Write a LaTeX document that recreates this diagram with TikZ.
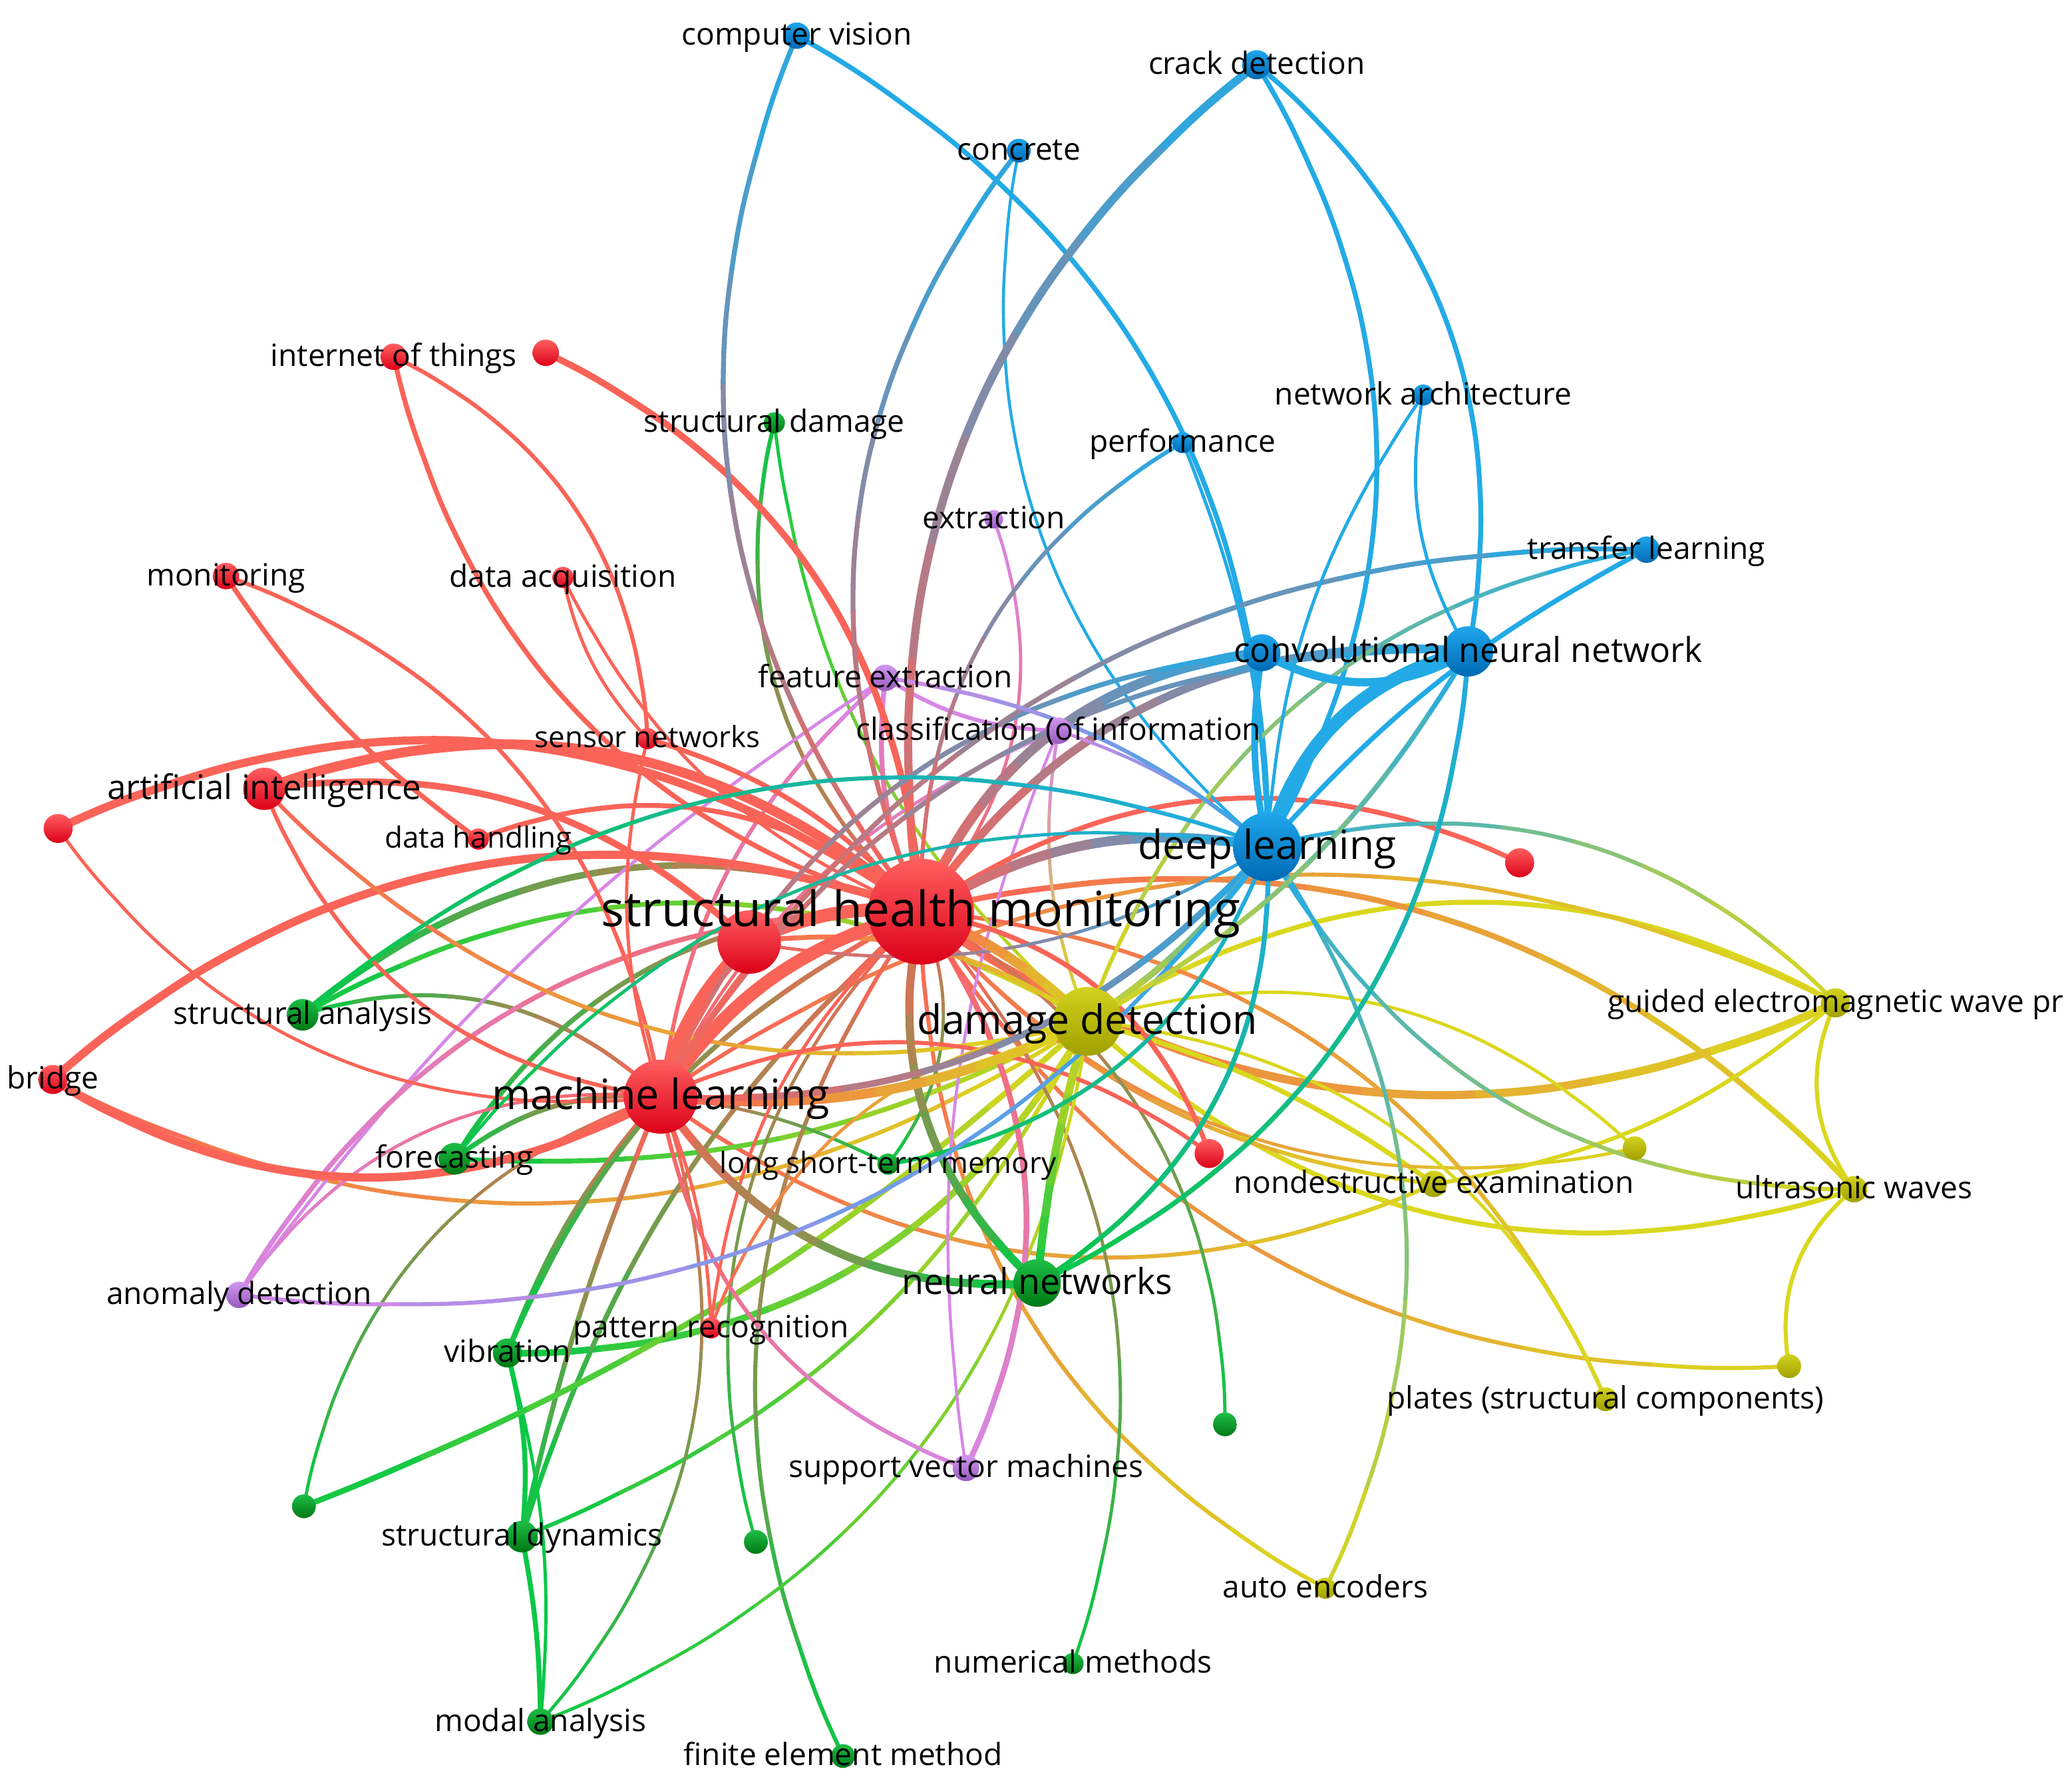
\documentclass[tikz,border=0pt]{standalone}
\usepackage{fontspec}
\setmainfont{Open Sans}
\definecolor{ER}{RGB}{250,100,88}
\definecolor{EB}{RGB}{35,170,230}
\definecolor{EG}{RGB}{10,200,70}
\definecolor{EY}{RGB}{218,215,30}
\definecolor{EP}{RGB}{215,135,230}
\definecolor{redT}{RGB}{255,95,95}
\definecolor{redB}{RGB}{220,0,25}
\definecolor{bluT}{RGB}{30,165,235}
\definecolor{bluB}{RGB}{0,105,180}
\definecolor{grnT}{RGB}{30,190,70}
\definecolor{grnB}{RGB}{0,120,20}
\definecolor{yelT}{RGB}{210,210,30}
\definecolor{yelB}{RGB}{160,160,0}
\definecolor{purT}{RGB}{210,150,240}
\definecolor{purB}{RGB}{150,90,190}
\tikzset{edgeline/.style={line cap=round}}
% cluster colour of each item
\newcommand\setcl[2]{\expandafter\def\csname cc#1\endcsname{#2}}
% gradient edge: from, to, width, bend
\newcommand\edg[4]{%
  \edef\gca{\csname cc#1\endcsname}\edef\gcb{\csname cc#2\endcsname}%
  \path (#1) to[bend left=#4] coordinate[pos=0.125] (q1) coordinate[pos=0.25] (q2)
    coordinate[pos=0.375] (q3) coordinate[pos=0.5] (q4) coordinate[pos=0.625] (q5)
    coordinate[pos=0.75] (q6) coordinate[pos=0.875] (q7) (#2);
  \coordinate (q0) at (#1); \coordinate (q8) at (#2);
  \foreach \i/\j/\m in {0/1/94,1/2/81,2/3/69,3/4/56,4/5/44,5/6/31,6/7/19,7/8/6}{
    \draw[edgeline,line width=#3*0.7pt,draw=\gca!\m!\gcb] (q\i) to[bend left=#4/8] (q\j);
  }%
}
\newcommand\nod[3]{\path[top color=#3T,bottom color=#3B] (#1) circle[radius=#2];}
\newcommand\lbl[3]{\node[anchor=base,inner sep=0pt,text=black,font=\fontsize{#2pt}{#2pt}\selectfont,yshift=-0.31*#2pt] at (#1) {#3};}
\begin{document}
\begin{tikzpicture}[x=0.01986cm,y=0.01986cm]
\useasboundingbox (0,0) rectangle (1568,-1352);
% red
\coordinate (shm) at (697,-690);   \setcl{shm}{ER}
\coordinate (r2) at (567,-713);    \setcl{r2}{ER}
\coordinate (ml) at (500,-830);    \setcl{ml}{ER}
\coordinate (ai) at (200,-597);    \setcl{ai}{ER}
\coordinate (iot) at (298,-270);   \setcl{iot}{ER}
\coordinate (ru1) at (413,-267);   \setcl{ru1}{ER}
\coordinate (mon) at (171,-436);   \setcl{mon}{ER}
\coordinate (dacq) at (426,-437);  \setcl{dacq}{ER}
\coordinate (sn) at (490,-559);    \setcl{sn}{ER}
\coordinate (dh) at (362,-635);    \setcl{dh}{ER}
\coordinate (ru2) at (44,-627);    \setcl{ru2}{ER}
\coordinate (bri) at (40,-817);    \setcl{bri}{ER}
\coordinate (ru3) at (1150,-653);  \setcl{ru3}{ER}
\coordinate (ru4) at (915,-873);   \setcl{ru4}{ER}
\coordinate (pr) at (538,-1005);   \setcl{pr}{ER}
% blue
\coordinate (cv) at (603,-27);     \setcl{cv}{EB}
\coordinate (crack) at (951,-49);  \setcl{crack}{EB}
\coordinate (conc) at (771,-114);  \setcl{conc}{EB}
\coordinate (na) at (1077,-299);   \setcl{na}{EB}
\coordinate (perf) at (895,-335);  \setcl{perf}{EB}
\coordinate (tl) at (1246,-416);   \setcl{tl}{EB}
\coordinate (cnn) at (1111,-493);  \setcl{cnn}{EB}
\coordinate (cnn2) at (955,-494);  \setcl{cnn2}{EB}
\coordinate (dl) at (959,-641);    \setcl{dl}{EB}
% purple
\coordinate (ext) at (752,-393);   \setcl{ext}{EP}
\coordinate (fe) at (670,-513);    \setcl{fe}{EP}
\coordinate (cls) at (801,-553);   \setcl{cls}{EP}
\coordinate (ad) at (181,-980);    \setcl{ad}{EP}
\coordinate (svm) at (731,-1111);  \setcl{svm}{EP}
% green
\coordinate (sd) at (586,-320);    \setcl{sd}{EG}
\coordinate (sa) at (229,-768);    \setcl{sa}{EG}
\coordinate (fc) at (344,-877);    \setcl{fc}{EG}
\coordinate (nn) at (785,-971);    \setcl{nn}{EG}
\coordinate (vib) at (384,-1024);  \setcl{vib}{EG}
\coordinate (sdyn) at (395,-1163); \setcl{sdyn}{EG}
\coordinate (gu1) at (230,-1140);  \setcl{gu1}{EG}
\coordinate (gu2) at (572,-1167);  \setcl{gu2}{EG}
\coordinate (gu3) at (927,-1078);  \setcl{gu3}{EG}
\coordinate (nm) at (812,-1259);   \setcl{nm}{EG}
\coordinate (ma) at (409,-1303);   \setcl{ma}{EG}
\coordinate (fem) at (638,-1329);  \setcl{fem}{EG}
\coordinate (lstm) at (672,-881);  \setcl{lstm}{EG}
% yellow
\coordinate (dd) at (823,-773);    \setcl{dd}{EY}
\coordinate (gem) at (1389,-759);  \setcl{gem}{EY}
\coordinate (uw) at (1403,-900);   \setcl{uw}{EY}
\coordinate (nde) at (1085,-896);  \setcl{nde}{EY}
\coordinate (yu1) at (1237,-869);  \setcl{yu1}{EY}
\coordinate (yu2) at (1354,-1034); \setcl{yu2}{EY}
\coordinate (pl) at (1215,-1059);  \setcl{pl}{EY}
\coordinate (ae) at (1003,-1202);  \setcl{ae}{EY}

% ---------- edges ----------
% yellow / orange
\edg{dd}{gem}{3}{30}
\edg{shm}{gem}{5}{-30}
\edg{ml}{gem}{2.5}{30}
\edg{shm}{uw}{3.5}{30}
\edg{dd}{uw}{3}{-30}
\edg{gem}{uw}{2.5}{-30}
\edg{uw}{yu2}{2.5}{-30}
\edg{yu2}{shm}{2.5}{30}
\edg{dd}{nde}{3}{10}
\edg{ml}{nde}{2.5}{-30}
\edg{bri}{dd}{2.5}{-30}
\edg{dd}{yu1}{2}{30}
\edg{shm}{yu1}{2}{-30}
\edg{gem}{nde}{2.5}{15}
\edg{shm}{pl}{2.5}{30}
\edg{dd}{pl}{2}{30}
\edg{shm}{ae}{2.5}{-30}
\edg{shm}{nde}{2.5}{-20}
% green / olive
\edg{sa}{shm}{4}{30}
\edg{sa}{ml}{2.5}{30}
\edg{sa}{dd}{3}{30}
\edg{fc}{ml}{3}{20}
\edg{fc}{shm}{3}{30}
\edg{fc}{dd}{3}{-15}
\edg{vib}{dd}{4}{-30}
\edg{vib}{ml}{3}{10}
\edg{vib}{shm}{3}{20}
\edg{vib}{sdyn}{3}{10}
\edg{sdyn}{shm}{3}{15}
\edg{sdyn}{ml}{3}{5}
\edg{sdyn}{dd}{2.5}{-20}
\edg{sdyn}{ma}{3}{5}
\edg{ma}{vib}{2}{-10}
\edg{gu1}{dd}{3.5}{-10}
\edg{gu1}{ml}{2}{30}
\edg{gu2}{shm}{2}{30}
\edg{fem}{shm}{2.5}{30}
\edg{nm}{shm}{2}{-30}
\edg{gu3}{shm}{2}{-30}
\edg{ma}{dd}{2}{-30}
\edg{ma}{ml}{2}{-30}
\edg{lstm}{shm}{2}{-30}
\edg{lstm}{ml}{2}{-10}
\edg{sd}{shm}{2.5}{-30}
\edg{sd}{dd}{2}{-20}
% purple / pink
\edg{fe}{shm}{3}{-15}
\edg{fe}{ml}{2.5}{-20}
\edg{fe}{cls}{2.5}{-15}
\edg{fe}{ad}{2}{-10}
\edg{ext}{shm}{2}{30}
\edg{cls}{shm}{3}{-15}
\edg{cls}{ml}{2}{-20}
\edg{cls}{dd}{2}{-15}
\edg{cls}{svm}{1.8}{-15}
\edg{ad}{shm}{3}{30}
\edg{ad}{ml}{2}{30}
\edg{ml}{svm}{2.5}{-30}
\edg{shm}{svm}{3.5}{30}
% red
\edg{ai}{shm}{6}{30}
\edg{ai}{r2}{4}{25}
\edg{ru2}{shm}{5}{30}
\edg{bri}{shm}{5}{30}
\edg{ru1}{shm}{4}{30}
\edg{iot}{shm}{3}{-30}
\edg{iot}{sn}{2.5}{30}
\edg{dacq}{sn}{2}{-15}
\edg{dacq}{shm}{2}{-20}
\edg{mon}{dh}{3}{-10}
\edg{mon}{ml}{2.5}{30}
\edg{ru2}{ml}{2}{-30}
\edg{ai}{ml}{2.5}{-30}
\edg{ai}{dd}{2.5}{-30}
\edg{dh}{shm}{3}{30}
\edg{sn}{shm}{3}{15}
\edg{sn}{ml}{2}{-15}
\edg{ml}{bri}{5}{30}
\edg{shm}{ru3}{3}{30}
\edg{ml}{ru4}{2.5}{30}
\edg{shm}{ru4}{3}{30}
\edg{shm}{pr}{2}{-20}
\edg{ml}{pr}{2}{10}
\edg{pr}{dd}{2}{30}
\edg{r2}{dd}{3}{20}
\edg{r2}{dl}{2}{-20}
\edg{shm}{nn}{5}{-30}
\edg{ml}{nn}{5}{-30}
\edg{nn}{dd}{5}{5}
\edg{shm}{dd}{6}{10}
\edg{ml}{dd}{6}{-15}
\edg{ml}{shm}{8}{20}
\edg{ml}{r2}{8}{15}
\edg{r2}{shm}{8}{15}
% blue
\edg{shm}{cv}{3}{30}
\edg{cv}{dl}{3}{30}
\edg{conc}{shm}{3}{-30}
\edg{conc}{dl}{1.8}{-30}
\edg{crack}{shm}{5}{-30}
\edg{crack}{dl}{3}{30}
\edg{crack}{cnn}{3}{30}
\edg{cnn2}{shm}{6}{-30}
\edg{cnn}{shm}{5}{-30}
\edg{cnn}{ml}{3}{-30}
\edg{cnn2}{ml}{3}{-30}
\edg{tl}{ml}{3}{-30}
\edg{tl}{dl}{3}{-10}
\edg{tl}{dd}{2.5}{-30}
\edg{na}{dl}{2}{-15}
\edg{na}{cnn}{2}{-20}
\edg{perf}{shm}{2.5}{-30}
\edg{perf}{dl}{2}{10}
\edg{dl}{shm}{6}{-20}
\edg{dl}{ml}{4}{25}
\edg{dl}{dd}{4}{10}
\edg{dl}{nn}{3}{30}
\edg{dl}{uw}{2.5}{-30}
\edg{dl}{ae}{2.5}{30}
\edg{dl}{gem}{2.5}{30}
\edg{dl}{lstm}{2.5}{30}
\edg{dl}{ad}{2.5}{30}
\edg{cnn}{nn}{3}{30}
\edg{cnn}{dd}{3}{15}
\edg{sa}{dl}{2.5}{30}
\edg{fc}{dl}{2}{30}
\edg{fe}{dl}{2.5}{15}
\edg{cls}{dl}{2}{10}
\edg{cnn}{dl}{8}{-30}
\edg{cnn2}{cnn}{5}{-30}
\edg{cnn2}{dl}{4}{-10}

% ---------- nodes ----------
\nod{shm}{40}{red}
\nod{r2}{24}{red}
\nod{ml}{28}{red}
\nod{ai}{16}{red}
\nod{iot}{10}{red}
\nod{ru1}{10}{red}
\nod{mon}{10}{red}
\nod{dacq}{8}{red}
\nod{sn}{8}{red}
\nod{dh}{8}{red}
\nod{ru2}{11}{red}
\nod{bri}{11}{red}
\nod{ru3}{11}{red}
\nod{ru4}{11}{red}
\nod{pr}{8}{red}
\nod{cv}{10}{blu}
\nod{crack}{11}{blu}
\nod{conc}{9}{blu}
\nod{na}{8}{blu}
\nod{perf}{8}{blu}
\nod{tl}{10}{blu}
\nod{cnn}{19}{blu}
\nod{cnn2}{14}{blu}
\nod{dl}{26}{blu}
\nod{ext}{7}{pur}
\nod{fe}{10}{pur}
\nod{cls}{10}{pur}
\nod{ad}{10}{pur}
\nod{svm}{10}{pur}
\nod{sd}{8}{grn}
\nod{sa}{12}{grn}
\nod{fc}{12}{grn}
\nod{nn}{18}{grn}
\nod{vib}{11}{grn}
\nod{sdyn}{12}{grn}
\nod{gu1}{9}{grn}
\nod{gu2}{9}{grn}
\nod{gu3}{9}{grn}
\nod{nm}{8}{grn}
\nod{ma}{10}{grn}
\nod{fem}{9}{grn}
\nod{lstm}{8}{grn}
\nod{dd}{26}{yel}
\nod{gem}{11}{yel}
\nod{uw}{10}{yel}
\nod{nde}{10}{yel}
\nod{yu1}{9}{yel}
\nod{yu2}{9}{yel}
\nod{pl}{9}{yel}
\nod{ae}{8}{yel}

% ---------- labels ----------
\lbl{shm}{20.8}{structural health monitoring}
\lbl{ml}{17.9}{machine learning}
\lbl{dl}{17.2}{deep learning}
\lbl{dd}{17.3}{damage detection}
\lbl{nn}{15.3}{neural networks}
\lbl{cnn}{14.7}{convolutional neural network}
\lbl{ai}{14.5}{artificial intelligence}
\lbl{cv}{13.1}{computer vision}
\lbl{crack}{13.1}{crack detection}
\lbl{conc}{13.1}{concrete}
\lbl{na}{13.1}{network architecture}
\lbl{perf}{13.1}{performance}
\lbl{tl}{13.1}{transfer learning}
\lbl{iot}{13.1}{internet of things}
\lbl{sd}{13.1}{structural damage}
\lbl{ext}{13.1}{extraction}
\lbl{mon}{13.1}{monitoring}
\lbl{dacq}{13.1}{data acquisition}
\lbl{fe}{13.1}{feature extraction}
\lbl{cls}{13.1}{classification (of information}
\lbl{sn}{12.5}{sensor networks}
\lbl{dh}{12.5}{data handling}
\lbl{sa}{13.1}{structural analysis}
\lbl{bri}{13.1}{bridge}
\lbl{gem}{13.1}{guided electromagnetic wave pr}
\lbl{fc}{13.1}{forecasting}
\lbl{lstm}{12.5}{long short-term memory}
\lbl{nde}{13.1}{nondestructive examination}
\lbl{uw}{13.1}{ultrasonic waves}
\lbl{ad}{13.1}{anomaly detection}
\lbl{vib}{13.1}{vibration}
\lbl{pr}{13.1}{pattern recognition}
\lbl{pl}{13.1}{plates (structural components)}
\lbl{svm}{13.1}{support vector machines}
\lbl{sdyn}{13.1}{structural dynamics}
\lbl{ae}{13.1}{auto encoders}
\lbl{nm}{13.1}{numerical methods}
\lbl{ma}{13.1}{modal analysis}
\lbl{fem}{13.1}{finite element method}
\end{tikzpicture}
\end{document}
